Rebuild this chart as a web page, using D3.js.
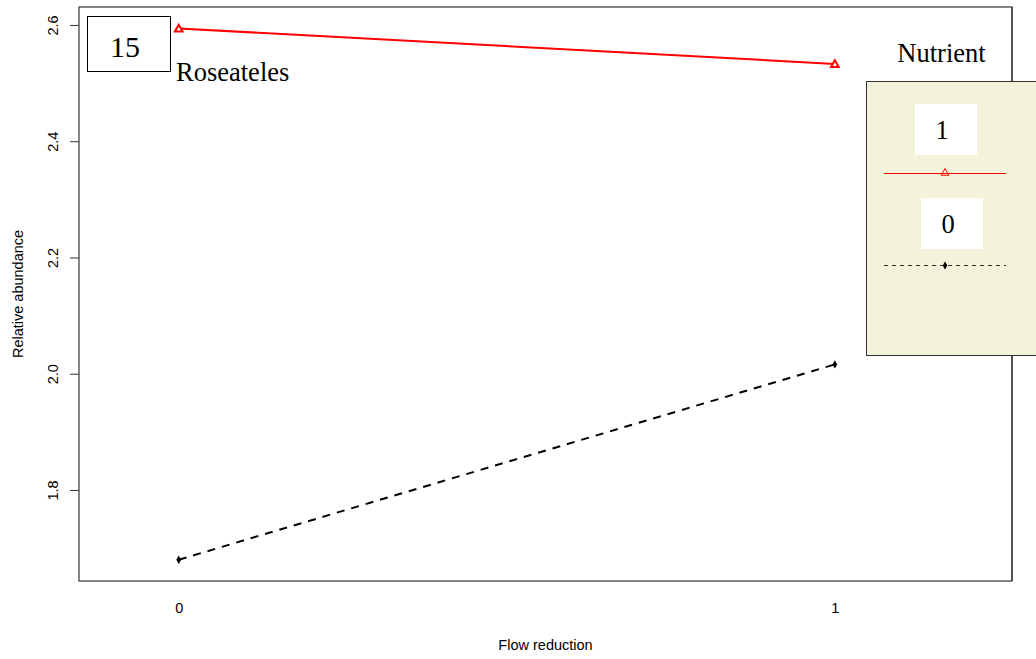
<!DOCTYPE html>
<html>
<head>
<meta charset="utf-8">
<script src="https://cdn.jsdelivr.net/npm/d3@7/dist/d3.min.js"></script>
<style>
  html, body { margin: 0; padding: 0; background: #ffffff; }
  svg { display: block; }
</style>
</head>
<body>
<svg id="chart" width="1036" height="659"></svg>
<script>
// Flow reduction levels on the x axis
const flowLevels = [0, 1];
// Nutrient groups and their mean relative abundance at each flow level
const nutrientGroups = ["1", "0"];
const nutrient1 = [2.594, 2.533];
const nutrient0 = [1.680, 2.016];
// Axis tick values
const yTicks = [1.8, 2.0, 2.2, 2.4, 2.6];
const xTickLabels = ["0", "1"];
const panelNumber = "15";
const taxonName = "Roseateles";

const svg = d3.select("#chart");
const plot = { left: 79, right: 1012, top: 7, bottom: 581 };

const x = d3.scaleLinear().domain([-0.152, 1.270]).range([plot.left, plot.right]);
const y = d3.scaleLinear().domain([1.6434, 2.6309]).range([plot.bottom, plot.top]);

const sans = "'Liberation Sans', Arial, Helvetica, sans-serif";
const serif = "'Liberation Serif', 'Times New Roman', serif";
const sansSize = "14.5px";
const serifSize = "26.5px";

// Plot frame
svg.append("rect")
  .attr("x", plot.left).attr("y", plot.top)
  .attr("width", plot.right - plot.left).attr("height", plot.bottom - plot.top)
  .attr("fill", "none").attr("stroke", "#333").attr("stroke-width", 1.2);

// Y axis with rotated labels
const yAxis = svg.append("g").attr("transform", `translate(${plot.left},0)`)
  .call(d3.axisLeft(y).tickValues(yTicks).tickFormat(d3.format(".1f")).tickSize(9).tickPadding(0));
yAxis.select(".domain").remove();
yAxis.selectAll("line").attr("stroke", "#333").attr("stroke-width", 1);
yAxis.selectAll("text").remove();
yAxis.selectAll(".tick").append("text")
  .attr("transform", "translate(-26,0) rotate(-90)")
  .attr("text-anchor", "middle")
  .attr("dy", "0.35em")
  .attr("fill", "#000")
  .style("font-family", sans).style("font-size", sansSize)
  .text(d => d3.format(".1f")(d));

// X axis labels (no tick marks)
const xAxis = svg.append("g").attr("transform", `translate(0,${plot.bottom})`)
  .call(d3.axisBottom(x).tickValues(flowLevels).tickFormat((d, i) => xTickLabels[i]).tickSize(0).tickPadding(22));
xAxis.select(".domain").remove();
xAxis.selectAll("text").attr("fill", "#000").style("font-family", sans).style("font-size", sansSize);

// Axis titles
svg.append("text")
  .attr("x", (plot.left + plot.right) / 2).attr("y", 650)
  .attr("text-anchor", "middle")
  .style("font-family", sans).style("font-size", sansSize)
  .text("Flow reduction");
svg.append("text")
  .attr("transform", `translate(23,${(plot.top + plot.bottom) / 2}) rotate(-90)`)
  .attr("text-anchor", "middle")
  .style("font-family", sans).style("font-size", sansSize)
  .text("Relative abundance");

const line = d3.line().x((d, i) => x(flowLevels[i])).y(d => y(d));

// Nutrient = 0 : black dashed with small dots
svg.append("path").datum(nutrient0)
  .attr("d", line).attr("fill", "none")
  .attr("stroke", "#000").attr("stroke-width", 2).attr("stroke-dasharray", "8,7");
svg.selectAll(".dot0").data(nutrient0).enter().append("path")
  .attr("class", "dot0")
  .attr("transform", (d, i) => `translate(${x(flowLevels[i])},${y(d)})`)
  .attr("d", d3.symbol().type(d3.symbolDiamond).size(20))
  .attr("fill", "#000");

// Nutrient = 1 : red solid with open triangles
svg.append("path").datum(nutrient1)
  .attr("d", line).attr("fill", "none")
  .attr("stroke", "#ff0000").attr("stroke-width", 2);
const tri = d3.symbol().type(d3.symbolTriangle).size(26);
svg.selectAll(".tri1").data(nutrient1).enter().append("path")
  .attr("class", "tri1")
  .attr("transform", (d, i) => `translate(${x(flowLevels[i])},${y(d) + 0.8})`)
  .attr("d", tri)
  .attr("fill", "#fff").attr("stroke", "#ff0000").attr("stroke-width", 2);

// Panel number box and taxon name
svg.append("rect")
  .attr("x", 87.5).attr("y", 16.5).attr("width", 83).attr("height", 55)
  .attr("fill", "#fff").attr("stroke", "#000").attr("stroke-width", 1);
svg.append("text")
  .attr("x", 125).attr("y", 57)
  .attr("text-anchor", "middle")
  .style("font-family", serif).style("font-size", "30px")
  .text(panelNumber);
svg.append("text")
  .attr("x", 176).attr("y", 81)
  .style("font-family", serif).style("font-size", serifSize)
  .text(taxonName);

// Legend
svg.append("text")
  .attr("x", 941.5).attr("y", 62)
  .attr("text-anchor", "middle")
  .style("font-family", serif).style("font-size", serifSize)
  .text("Nutrient");
svg.append("rect")
  .attr("x", 866.5).attr("y", 81.5).attr("width", 190).attr("height", 274)
  .attr("fill", "#f3f3dc").attr("stroke", "#333").attr("stroke-width", 1);

const legendItems = [
  { label: nutrientGroups[0], boxX: 915, boxY: 104, lineY: 173, color: "#ff0000", dash: null, marker: "tri" },
  { label: nutrientGroups[1], boxX: 921, boxY: 198, lineY: 265, color: "#333", dash: "4,4", marker: "dot" }
];
legendItems.forEach(it => {
  svg.append("rect")
    .attr("x", it.boxX).attr("y", it.boxY).attr("width", 62).attr("height", 51)
    .attr("fill", "#fff");
  svg.append("text")
    .attr("x", it.boxX + 27).attr("y", it.boxY + 35)
    .attr("text-anchor", "middle")
    .style("font-family", serif).style("font-size", serifSize)
    .text(it.label);
  const ln = svg.append("line")
    .attr("x1", 884).attr("x2", 1006).attr("y1", it.lineY + 0.5).attr("y2", it.lineY + 0.5)
    .attr("stroke", it.color).attr("stroke-width", 1);
  if (it.dash) ln.attr("stroke-dasharray", it.dash);
  if (it.marker === "tri") {
    svg.append("path")
      .attr("transform", `translate(945,${it.lineY})`)
      .attr("d", d3.symbol().type(d3.symbolTriangle).size(26))
      .attr("fill", "none").attr("stroke", "#ff0000").attr("stroke-width", 1);
  } else {
    svg.append("path")
      .attr("transform", `translate(945,${it.lineY + 0.5})`)
      .attr("d", d3.symbol().type(d3.symbolDiamond).size(18))
      .attr("fill", "#000");
  }
});

// Right plot border segments visible outside the legend box
svg.append("line")
  .attr("x1", plot.right).attr("x2", plot.right).attr("y1", plot.top).attr("y2", 81)
  .attr("stroke", "#333").attr("stroke-width", 1.2);
svg.append("line")
  .attr("x1", plot.right).attr("x2", plot.right).attr("y1", 356).attr("y2", plot.bottom)
  .attr("stroke", "#333").attr("stroke-width", 1.2);
</script>
</body>
</html>
